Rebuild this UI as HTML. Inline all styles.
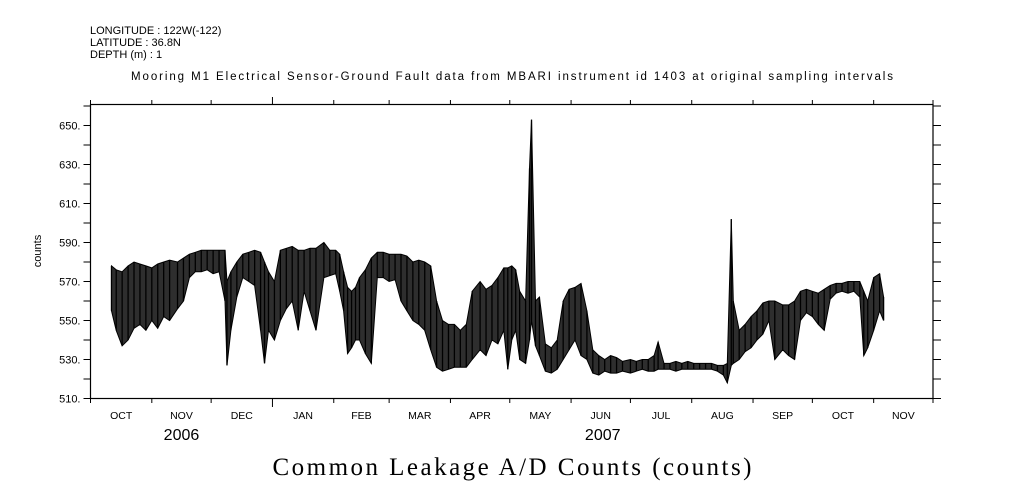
<!DOCTYPE html>
<html><head><meta charset="utf-8"><style>
html,body{margin:0;padding:0;background:#fff;}
svg{display:block;}
text{font-family:"Liberation Sans",sans-serif;fill:#000;}
</style></head><body>
<svg id="chart" width="1009" height="504" viewBox="0 0 1009 504" xmlns="http://www.w3.org/2000/svg">
<g font-size="11">
<text x="90" y="34">LONGITUDE : 122W(-122)</text>
<text x="90" y="46">LATITUDE : 36.8N</text>
<text x="90" y="58">DEPTH (m) : 1</text>
</g>
<text x="512" y="80" text-anchor="middle" font-size="11.5" textLength="762">Mooring M1 Electrical Sensor-Ground Fault data from MBARI instrument id 1403 at original sampling intervals</text>
<text transform="translate(41,251) rotate(-90)" text-anchor="middle" font-size="11">counts</text>
<text x="512" y="475" text-anchor="middle" font-size="25" textLength="479" style="font-family:'Liberation Serif',serif">Common Leakage A/D Counts (counts)</text>
<g id="axes"></g>
<g id="series"></g>
<rect x="90.5" y="104.5" width="842.5" height="294" fill="none" stroke="#000" stroke-width="1.2"/>
</svg>
<script>
const yTicks=[510,530,550,570,590,610,630,650];
const monthLabels=["OCT","NOV","DEC","JAN","FEB","MAR","APR","MAY","JUN","JUL","AUG","SEP","OCT","NOV"];
const monthStartDays=[0,31,61,92,123,151,182,212,243,273,304,335,365,396,426];
const yearLabels=["2006","2007"];
const yearDays=[46,259];
const days=[10.6,13,16,19,22,25,28,31,34,37,40,44,47,50,53,56,59,62,65,68,69,71,74,77,80,83,86,88,90,93,96,99,102,105,108,111,114,118,121,124,126,128,130,132,134,136,139,142,145,148,151,154,157,160,163,166,169,172,175,178,181,184,187,190,193,197,200,203,206,209,211,213,215,217,220,222,223,225,227,230,233,236,239,242,245,248,251,254,257,260,263,266,269,273,276,279,282,285,287,290,293,296,299,302,305,308,311,314,317,320,322,324,325,328,331,334,337,340,343,346,350,353,356,359,362,365,368,371,374,377,380,383,386,389,391,393,396,399,401];
const hiVals=[578,576,575,578,580,579,578,577,579,580,581,580,582,584,585,586,586,586,586,586,570,575,580,584,585,586,585,580,575,570,586,587,588,586,586,587,587,590,586,586,584,575,567,565,567,572,576,582,585,585,584,584,584,583,580,581,580,578,560,550,548,548,545,548,565,570,566,568,572,577,577,578,576,565,560,628,653,560,562,538,536,540,560,566,567,569,555,535,532,530,532,531,529,530,529,530,530,532,539,528,528,529,528,529,528,528,528,528,527,527,528,602,560,545,548,552,555,559,560,560,558,558,560,565,566,565,564,566,568,569,569,570,570,570,565,560,572,574,562];
const loVals=[555,545,537,540,546,548,545,550,546,552,550,556,560,572,575,575,576,574,575,560,527,545,562,572,570,568,545,528,545,540,550,556,560,545,565,555,545,572,573,574,565,555,533,536,540,540,533,528,572,572,570,571,560,555,550,548,545,535,526,524,525,526,526,526,530,535,532,540,538,545,525,540,545,530,528,540,550,537,532,524,523,525,530,535,540,532,530,523,522,524,523,523,524,523,524,525,524,524,525,525,525,524,525,525,525,525,525,525,524,522,518,527,528,530,534,536,540,543,550,530,535,532,530,550,554,552,548,545,561,564,565,564,565,562,532,536,545,555,550];
const NS="http://www.w3.org/2000/svg";
const X0=90.5,X1=933,TOTAL=426,Y0=398.5,PXU=1.95;
function xS(d){return X0+d*(X1-X0)/TOTAL;}
function yS(v){return Y0-(v-510)*PXU;}
function mk(tag,attrs,parent){const e=document.createElementNS(NS,tag);for(const k in attrs)e.setAttribute(k,attrs[k]);parent.appendChild(e);return e;}
const axesG=document.getElementById('axes');
for(let v=510;v<=660;v+=10){
  const y=yS(v);
  const t=mk('line',{x1:X0-7,x2:X0,y1:y,y2:y,stroke:'#000'},axesG);
  
  
  const r=mk('line',{x1:X1,x2:X1+8,y1:y,y2:y,stroke:'#000'},axesG);
  
  
}
yTicks.forEach(v=>{
  const t=mk('text',{x:X0-10,y:yS(v)+4,'text-anchor':'end','font-size':'11'},axesG);
  t.textContent=v+'.';
  
  
});
monthStartDays.forEach((d,i)=>{
  const x=xS(d);const big=(d===92);
  const a=mk('line',{x1:x,x2:x,y1:104.5,y2:big?97:100,stroke:'#000'},axesG);
  
  
  const b=mk('line',{x1:x,x2:x,y1:Y0,y2:big?407:403,stroke:'#000'},axesG);
  
  
});
monthLabels.forEach((m,i)=>{
  const x=(xS(monthStartDays[i])+xS(monthStartDays[i+1]))/2;
  const t=mk('text',{x:x,y:419,'text-anchor':'middle','font-size':'10.5'},axesG);
  t.textContent=m;
  
  
});
yearLabels.forEach((yv,i)=>{
  const t=mk('text',{x:xS(yearDays[i]),y:440,'text-anchor':'middle','font-size':'16'},axesG);
  t.textContent=yv;
  
  
});
const seriesG=document.getElementById('series');
let upperPath='',lowerPath='';
days.forEach((d,i)=>{upperPath+=(i?'L':'M')+xS(d).toFixed(1)+','+yS(hiVals[i]).toFixed(1);});
for(let i=days.length-1;i>=0;i--){lowerPath+='L'+xS(days[i]).toFixed(1)+','+yS(loVals[i]).toFixed(1);}
const band=mk('path',{d:upperPath+lowerPath+'Z',fill:'#000','fill-opacity':'0.82',stroke:'#000','stroke-width':'1'},seriesG);


days.forEach((d,i)=>{
  const l=mk('line',{x1:xS(d),x2:xS(d),y1:yS(hiVals[i]),y2:yS(loVals[i]),stroke:'#000','stroke-width':'1.3'},seriesG);
  
  
});
</script>
</body></html>
